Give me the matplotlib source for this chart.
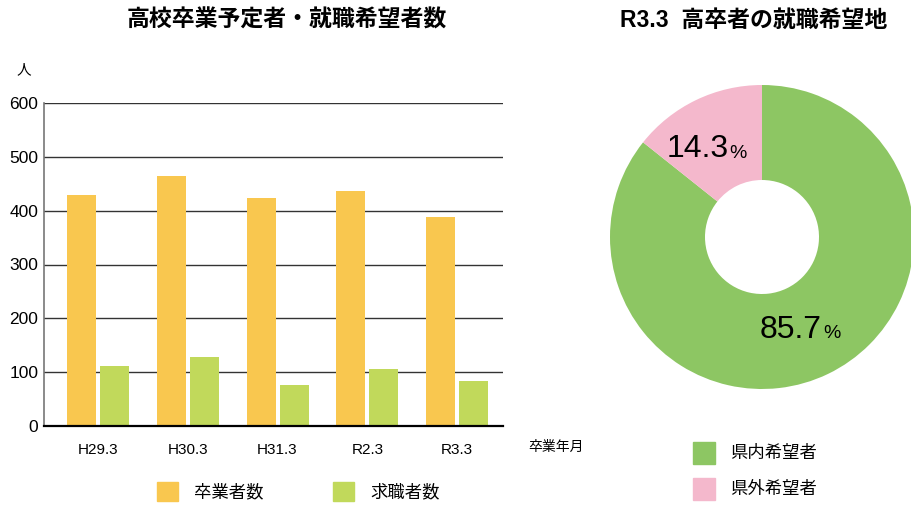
import matplotlib.pyplot as plt
import numpy as np
from matplotlib.patches import Rectangle

plt.rcParams["font.family"] = ["Liberation Sans", "Noto Sans CJK JP"]

years = ["H29.3", "H30.3", "H31.3", "R2.3", "R3.3"]
graduates = [430, 465, 424, 437, 388]
job_seekers = [111, 128, 76, 106, 84]
bar_labels = ["卒業者数", "求職者数"]
bar_colors = ["#F9C74F", "#C1D95B"]

pie_labels = ["県内希望者", "県外希望者"]
pie_values = [85.7, 14.3]
pie_colors = ["#8DC663", "#F4B8CC"]

JP = ["Noto Sans CJK JP"]

fig = plt.figure(figsize=(9.12, 5.09), dpi=100)
W, H = 912, 509


def frac(x0, y0, x1, y1):
    return [x0 / W, 1 - y1 / H, (x1 - x0) / W, (y1 - y0) / H]


# bar chart
ax = fig.add_axes(frac(44, 103, 503, 426))
x = np.arange(len(years))
bw = 0.323
off = 0.184
ax.bar(x - off, graduates, bw, color=bar_colors[0], zorder=3)
ax.bar(x + off, job_seekers, bw, color=bar_colors[1], zorder=3)
ax.set_xlim(-0.6, 4.51)
ax.set_ylim(0, 600)
ax.set_yticks(range(0, 601, 100))
ax.yaxis.grid(True, color="#333333", linewidth=1.0, zorder=1)
ax.set_xticks(x)
ax.set_xticklabels(years)
ax.tick_params(axis="both", length=0)
ax.tick_params(axis="x", pad=12, labelsize=11)
ax.tick_params(axis="y", pad=4, labelsize=12.5)
for s in ["top", "right"]:
    ax.spines[s].set_visible(False)
ax.spines["left"].set_color("#777777")
ax.spines["left"].set_linewidth(1.2)
ax.spines["bottom"].set_color("black")
ax.spines["bottom"].set_linewidth(1.6)
ax.spines["bottom"].set_zorder(4)

fig.text(287 / W, 1 - 20 / H, "高校卒業予定者・就職希望者数", family=JP, fontsize=16.5,
         fontweight="bold", ha="center", va="center")
fig.text(24 / W, 1 - 70 / H, "人", family=JP, fontsize=10.5, ha="center", va="center")
fig.text(556 / W, 1 - 447 / H, "卒業年月", family=JP, fontsize=10, ha="center", va="center")

# bar legend
for i, (lab, col) in enumerate(zip(bar_labels, bar_colors)):
    x0 = 157 + i * 176
    fig.patches.append(Rectangle((x0 / W, 1 - 501 / H), 21 / W, 19 / H,
                                 transform=fig.transFigure, color=col, figure=fig))
    fig.text((x0 + 37) / W, 1 - 492 / H, lab, family=JP, fontsize=12.5,
             ha="left", va="center")

# donut
pax = fig.add_axes(frac(610, 85, 914, 389))
wedges, _ = pax.pie(pie_values, colors=pie_colors, startangle=90, counterclock=False,
                    radius=1, wedgeprops=dict(width=0.625, linewidth=0))
pax.set_xlim(-1, 1)
pax.set_ylim(-1, 1)
pax.set_aspect("equal")
pax.axis("off")

for w, v, rr, dx in zip(wedges, pie_values, [0.68, 0.64], [0.1, 0.06]):
    ang = np.deg2rad((w.theta1 + w.theta2) / 2)
    cx, cy = rr * np.cos(ang) + dx, rr * np.sin(ang)
    pax.text(cx, cy, f"{v:.1f}", fontsize=23, ha="right", va="center")
    pax.text(cx + 0.005, cy - 0.025, "%", fontsize=14, ha="left", va="center")

fig.text(754 / W, 1 - 20 / H, "R3.3  高卒者の就職希望地", family=["Liberation Sans", "Noto Sans CJK JP"],
         fontsize=16.5, fontweight="bold", ha="center", va="center")

for i, (lab, col) in enumerate(zip(pie_labels, pie_colors)):
    y0 = 442 + i * 36
    fig.patches.append(Rectangle((693 / W, 1 - (y0 + 22) / H), 22 / W, 22 / H,
                                 transform=fig.transFigure, color=col, figure=fig))
    fig.text(730 / W, 1 - (y0 + 11) / H, lab, family=JP, fontsize=12.5,
             ha="left", va="center")

fig.savefig("out.png", dpi=100)
